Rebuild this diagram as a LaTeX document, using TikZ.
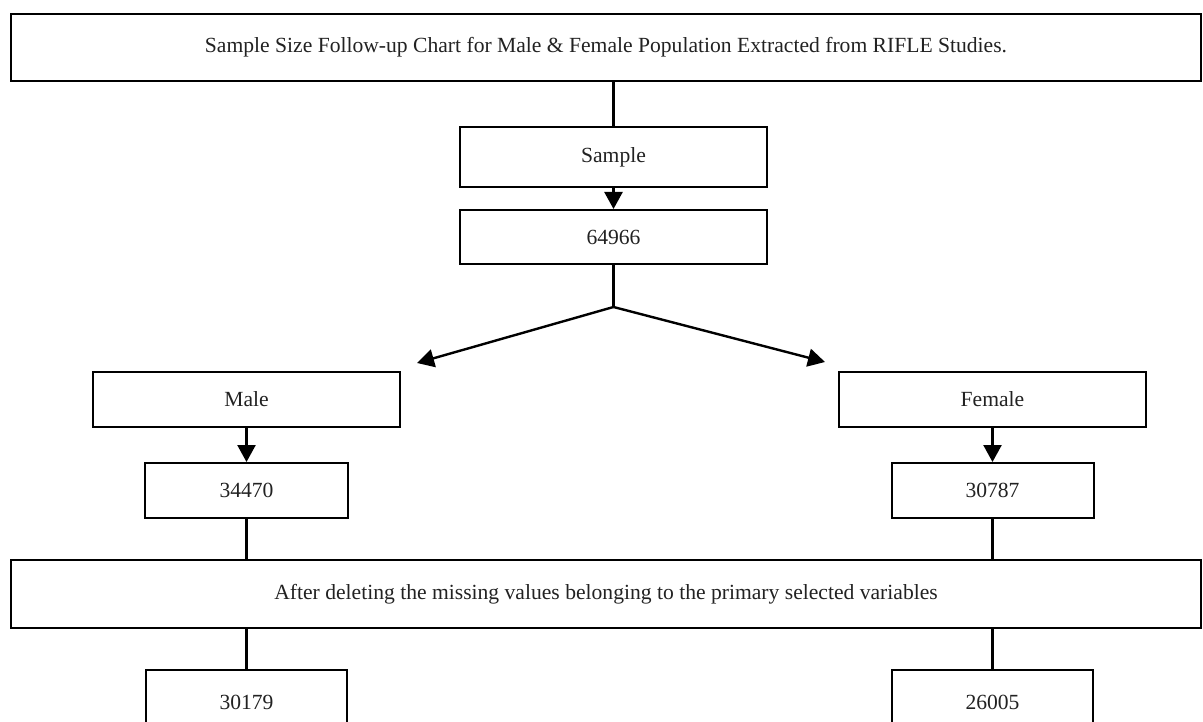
\documentclass[tikz,border=0pt]{standalone}
\usepackage{fontspec}
\setmainfont{Liberation Serif}
\usetikzlibrary{arrows.meta}
\definecolor{txt}{HTML}{222222}
\begin{document}
\begin{tikzpicture}[x=1pt,y=-1pt,
  box/.style={draw=black,line width=2pt,fill=white,inner sep=0pt,text=txt,
    font=\fontsize{21.6}{24}\selectfont},
  conn/.style={line width=2.4pt,draw=black},
  arr/.style={conn,-{Triangle[length=17pt,width=18pt]}}]
\useasboundingbox (0,0) rectangle (1203,722);
\clip (0,0) rectangle (1203,722);
\fill[white] (0,0) rectangle (1203,722);
\node[box,minimum width=1190pt,minimum height=67pt] (top) at (606,47.5)
  {\raisebox{-2pt}{Sample Size Follow-up Chart for Male \& Female Population Extracted from RIFLE Studies.}};
\node[box,minimum width=307pt,minimum height=60pt] (sample) at (613.5,157) {Sample};
\node[box,minimum width=307pt,minimum height=54pt] (n64966) at (613.5,237) {64966};
\node[box,minimum width=307pt,minimum height=55pt] (male) at (246.5,399.5) {Male};
\node[box,minimum width=307pt,minimum height=55pt] (female) at (992.5,399.5) {Female};
\node[box,minimum width=203pt,minimum height=55pt] (m1) at (246.5,490.5) {34470};
\node[box,minimum width=202pt,minimum height=55pt] (f1) at (992.5,490.5) {30787};
\node[box,minimum width=1190pt,minimum height=68pt] (after) at (606,594)
  {After deleting the missing values belonging to the primary selected variables};
\node[box,minimum width=201pt,minimum height=64pt] (m2) at (246.5,702) {30179};
\node[box,minimum width=201pt,minimum height=64pt] (f2) at (992.5,702) {26005};
\coordinate (j) at (613.5,307);
\coordinate (lt) at (417,363);
\coordinate (rt) at (825,362);
\draw[conn] (sample.north |- top.south) -- (sample.north);
\draw[arr] (sample) -- (n64966);
\draw[conn] (n64966) -- (j);
\draw[arr] (j) -- (lt);
\draw[arr] (j) -- (rt);
\draw[arr] (male) -- (m1);
\draw[arr] (female) -- (f1);
\draw[conn] (m1.south) -- (m1.south |- after.north);
\draw[conn] (f1.south) -- (f1.south |- after.north);
\draw[conn] (m2.north |- after.south) -- (m2.north);
\draw[conn] (f2.north |- after.south) -- (f2.north);
\end{tikzpicture}
\end{document}
